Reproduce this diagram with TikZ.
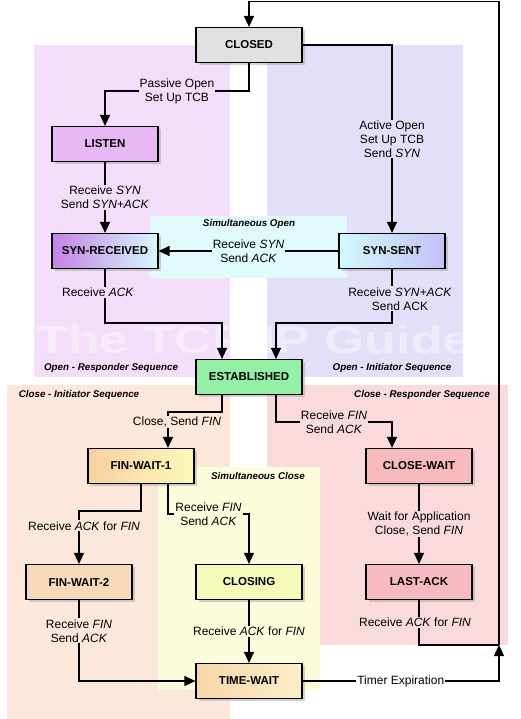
\documentclass[tikz,border=0pt]{standalone}
\usepackage{fontspec}
\setmainfont{Liberation Sans}
\usepackage{tikz}
\usetikzlibrary{arrows.meta,shadows,positioning}

\definecolor{purplebg}{HTML}{F2DEF8}
\definecolor{bluebg}{HTML}{E2E0F8}
\definecolor{cyanbg}{HTML}{E0FAFC}
\definecolor{orangebg}{HTML}{FBE8DA}
\definecolor{redbg}{HTML}{FADADC}
\definecolor{yellowbg}{HTML}{FAFCDC}

\tikzset{
  state/.style={draw=black, line width=1.2pt, minimum width=106pt, minimum height=35pt,
    inner sep=0pt, font=\fontsize{11.5}{13}\selectfont\bfseries,
    drop shadow={shadow xshift=2.5pt, shadow yshift=-2.5pt, fill=black!35}},
  lbl/.style={font=\fontsize{12}{14}\selectfont, align=center, inner sep=1pt},
  seq/.style={font=\fontsize{9.8}{11}\selectfont\bfseries\itshape, inner sep=0pt}
}

\begin{document}
\begin{tikzpicture}[x=1pt, y=-1pt, line width=1.4pt, >={Triangle[length=11pt,width=10pt]}]
   \useasboundingbox (0,0) rectangle (521,719);
   % sequence areas
   \fill[purplebg] (34,45) rectangle (230,377);
   \fill[bluebg] (267,45) rectangle (463,377);
   \fill[cyanbg] (150,216) rectangle (347,278);
   \fill[orangebg] (7,385) rectangle (230,719);
   \fill[redbg] (267,385) rectangle (508,645);
   \fill[yellowbg] (158,467) rectangle (320,690);
   \node[text=white, opacity=0.4, inner sep=0pt, anchor=base, text depth=0pt,
     font=\fontsize{39}{39}\selectfont\bfseries] (mark) at (254,353) {\scalebox{1.33}[1]{The TCP/IP Guide}};

   \node[seq] (tso) at (249,224) {Simultaneous Open};
   \node[seq] (tor) at (111,368) {Open - Responder Sequence};
   \node[seq] (toi) at (392,368) {Open - Initiator Sequence};
   \node[seq] (tci) at (79,395) {Close - Initiator Sequence};
   \node[seq] (tcr) at (422,395) {Close - Responder Sequence};
   \node[seq] (tsc) at (258,476) {Simultaneous Close};

   \begin{scope}[every node/.style={state}]
    \node[fill=black!12] (closed) at (249,45) {CLOSED};
    \node[fill={rgb,255:red,232;green,184;blue,244}] (listen) at (105,144) {LISTEN};
    \node[left color={rgb,255:red,196;green,130;blue,228}, right color={rgb,255:red,214;green,248;blue,252}] (synrcvd) at (105,251) {SYN-RECEIVED};
    \node[left color={rgb,255:red,210;green,250;blue,252}, right color={rgb,255:red,196;green,192;blue,244}] (synsent) at (392,251) {SYN-SENT};
    \node[fill={rgb,255:red,148;green,240;blue,164}] (estab) at (249,377) {ESTABLISHED};
    \node[left color={rgb,255:red,248;green,208;blue,160}, right color={rgb,255:red,250;green,250;blue,186}] (finw1) at (141,466) {FIN-WAIT-1};
    \node[fill={rgb,255:red,248;green,186;blue,188}] (closewait) at (419,466) {CLOSE-WAIT};
    \node[fill={rgb,255:red,248;green,218;blue,186}] (finw2) at (79,582) {FIN-WAIT-2};
    \node[fill={rgb,255:red,244;green,250;blue,186}] (closing) at (249,582) {CLOSING};
    \node[fill={rgb,255:red,248;green,186;blue,194}] (lastack) at (419,582) {LAST-ACK};
    \node[left color={rgb,255:red,248;green,214;blue,168}, right color={rgb,255:red,250;green,238;blue,200}] (timewait) at (249,681) {TIME-WAIT};
   \end{scope}

   \coordinate (ret) at (499,645);
   \coordinate (top) at (499,1.5);

   \begin{scope}[every node/.style={lbl}]
    \draw[->] (closed.south) -- ++(0,28) -| node[pos=0.25, fill=purplebg] {Passive Open\\Set Up TCB} (listen.north);
    \draw[->] (closed.east) -| node[pos=0.75, fill=bluebg] {Active Open\\Set Up TCB\\Send \textit{SYN}} (synsent.north);
    \draw[->] (listen) -- node[fill=purplebg] {Receive \textit{SYN}\\Send \textit{SYN+ACK}} (synrcvd);
    \draw[->] (synsent) -- node[fill=cyanbg] {Receive \textit{SYN}\\Send \textit{ACK}} (synrcvd);
    \draw[->] (synrcvd.south) -- node[pos=0.43, xshift=-7pt, fill=purplebg] {Receive \textit{ACK}} ++(0,54) -| ([xshift=-27pt]estab.north);
    \draw[->] (synsent.south) -- node[pos=0.55, xshift=8pt, fill=bluebg] {Receive \textit{SYN+ACK}\\Send ACK} ++(0,54) -| ([xshift=27pt]estab.north);
    \draw[->] ([xshift=-27pt]estab.south) -- ++(0,17) -| node[pos=0.64, xshift=9pt, fill=orangebg] {Close, Send \textit{FIN}} ([xshift=27pt]finw1.north);
    \draw[->] ([xshift=27pt]estab.south) -- ++(0,27) -| node[pos=0.25, fill=redbg] {Receive \textit{FIN}\\Send \textit{ACK}} ([xshift=-27pt]closewait.north);
    \draw[->] (finw1.south) -- ++(0,27) -| node[pos=0.64, xshift=5pt, fill=orangebg] {Receive \textit{ACK} for \textit{FIN}} (finw2.north);
    \draw[->] ([xshift=27pt]finw1.south) -- ++(0,30) -| node[pos=0.25, fill=yellowbg] {Receive \textit{FIN}\\Send \textit{ACK}} (closing.north);
    \draw[->] (closewait) -- node[fill=redbg] {Wait for Application\\Close, Send \textit{FIN}} (lastack);
    \draw[->] (finw2.south) |- node[pos=0.19, fill=orangebg] {Receive \textit{FIN}\\Send \textit{ACK}} (timewait.west);
    \draw[->] (closing) -- node[fill=yellowbg] {Receive \textit{ACK} for \textit{FIN}} (timewait);
    \draw (lastack.south) |- node[pos=0.25, xshift=-4pt, fill=redbg] {Receive \textit{ACK} for \textit{FIN}} (ret);
    \draw[->] (timewait.east) -- node[fill=white] {Timer Expiration} (timewait.east -| ret) -- (ret);
    \draw[->] (ret) -- (top) -| (closed.north);
   \end{scope}
\end{tikzpicture}
\end{document}
